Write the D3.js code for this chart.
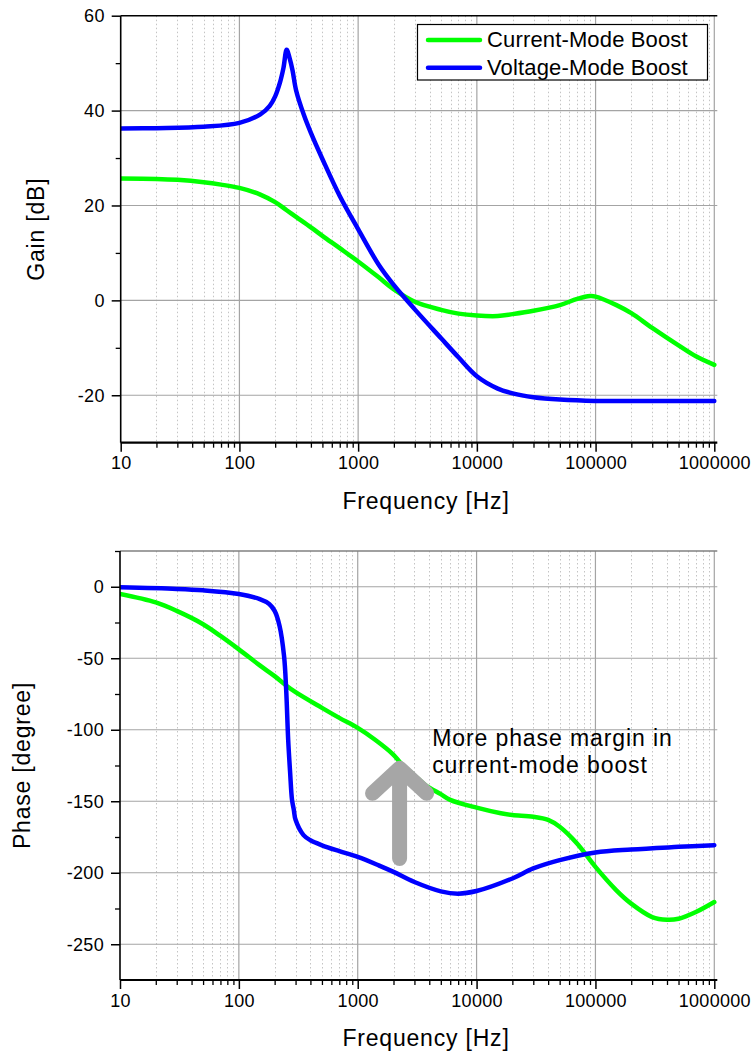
<!DOCTYPE html>
<html><head><meta charset="utf-8">
<script src="https://cdn.jsdelivr.net/npm/d3@7"></script>
<style>
body{margin:0;background:#fff}
svg{display:block}
text{font-family:"Liberation Sans",Arial,sans-serif;fill:#000}
</style>
</head><body>
<svg id="chart" width="753" height="1051"></svg>
<script>
// ---------- data ----------
const seriesNames = ["Current-Mode Boost", "Voltage-Mode Boost"];
const seriesColors = ["#00ff00", "#0000ff"];
const freqTicks = [10, 100, 1000, 10000, 100000, 1000000];
const freqTickLabels = ["10", "100", "1000", "10000", "100000", "1000000"];
const gainTicks = [-20, 0, 20, 40, 60];
const gainTickLabels = ["-20", "0", "20", "40", "60"];
const phaseTicks = [-250, -200, -150, -100, -50, 0];
const phaseTickLabels = ["-250", "-200", "-150", "-100", "-50", "0"];

// Gain, current-mode
const gainCMFreq = [10, 20, 30, 50, 70, 100, 150, 200, 250, 300, 400, 500, 700, 1000, 1500, 2000, 3000, 5000, 7000, 10000, 15000, 20000, 30000, 50000, 70000, 90000, 100000, 150000, 200000, 300000, 500000, 700000, 1000000];
const gainCM = [25.7, 25.6, 25.4, 24.9, 24.4, 23.7, 22.3, 20.7, 19.0, 17.6, 15.4, 13.6, 11.0, 8.2, 4.8, 2.3, -0.3, -2.0, -2.8, -3.2, -3.3, -2.9, -2.2, -1.0, 0.3, 0.9, 0.8, -1.0, -2.7, -5.8, -9.5, -11.8, -13.6];

// Gain, voltage-mode
const gainVMFreq = [10, 20, 50, 100, 150, 180, 200, 220, 235, 250, 265, 280, 300, 350, 400, 500, 700, 1000, 1500, 2000, 3000, 5000, 7000, 10000, 15000, 20000, 30000, 50000, 100000, 300000, 1000000];
const gainVM = [36.2, 36.3, 36.6, 37.4, 39.2, 41.0, 43.0, 46.0, 49.0, 52.8, 51.0, 48.5, 44.3, 39.0, 35.3, 29.8, 22.0, 15.0, 7.4, 3.2, -1.9, -8.0, -12.0, -16.0, -18.6, -19.6, -20.4, -20.9, -21.2, -21.2, -21.2];

// Phase, current-mode
const phaseCMFreq = [10, 20, 30, 50, 70, 100, 150, 200, 250, 300, 500, 700, 1000, 1400, 2000, 2300, 3000, 3700, 5000, 6000, 10000, 16000, 20000, 30000, 40000, 50000, 70000, 100000, 150000, 200000, 300000, 400000, 500000, 700000, 1000000];
const phaseCM = [-5.1, -11, -16.9, -26.2, -34.4, -43.8, -55, -62.5, -69, -73.7, -84.7, -91.7, -98.7, -107, -117.5, -123.3, -131.9, -138.6, -145, -149, -154.5, -158.4, -159.6, -160.8, -163, -167.8, -179.5, -195.9, -212.3, -221.6, -231, -232.9, -232.2, -227.5, -220.5];

// Phase, voltage-mode
const phaseVMFreq = [10, 30, 50, 100, 150, 180, 200, 220, 240, 250, 260, 270, 280, 290, 300, 350, 400, 500, 700, 1000, 1500, 2000, 3000, 5000, 7000, 10000, 20000, 30000, 50000, 100000, 200000, 500000, 1000000];
const phaseVM = [-0.4, -1.5, -2.5, -5.1, -8.6, -12, -16.9, -27.4, -48.5, -71.8, -107, -130, -149, -156, -163, -173.7, -177.3, -180.8, -184.9, -188.9, -194.8, -199.4, -206.5, -213, -214.6, -212.8, -204, -197, -191.2, -185.8, -183.7, -181.9, -180.7];

const annotationLines = ["More phase margin in", "current-mode boost"];

// ---------- drawing ----------
const svg = d3.select("#chart");
const zip = (xs, ys) => xs.map((x, i) => [x, ys[i]]);

function panel(opt) {
  const x = d3.scaleLog().domain([10, 1e6]).range([opt.x0, opt.x1]);
  const y = d3.scaleLinear().domain(opt.yDomain).range([opt.yBottom, opt.yTop]);
  const g = svg.append("g");
  const id = "clip" + opt.name;
  svg.append("clipPath").attr("id", id).append("rect")
    .attr("x", opt.x0).attr("y", opt.yTop).attr("width", opt.x1 - opt.x0 + 3).attr("height", opt.yBottom - opt.yTop);

  // minor vertical grid
  const minor = [];
  for (let d = 10; d < 1e6; d *= 10) for (let k = 2; k <= 9; k++) minor.push(d * k);
  g.append("g").selectAll("line").data(minor).join("line")
    .attr("x1", d => Math.round(x(d)) + 0.5).attr("x2", d => Math.round(x(d)) + 0.5)
    .attr("y1", opt.yTop).attr("y2", opt.yBottom)
    .attr("stroke", "#c4c4c4").attr("stroke-width", 1).attr("stroke-dasharray", "1.5,2.5");
  // major vertical grid
  g.append("g").selectAll("line").data(freqTicks.slice(1)).join("line")
    .attr("x1", d => x(d)).attr("x2", d => x(d))
    .attr("y1", opt.yTop).attr("y2", opt.yBottom)
    .attr("stroke", "#a4a4a4").attr("stroke-width", 1.2);
  // major horizontal grid
  g.append("g").selectAll("line").data(opt.yTicks.filter(v => v < opt.yDomain[1])).join("line")
    .attr("x1", opt.x0).attr("x2", opt.x1 + 3)
    .attr("y1", d => y(d)).attr("y2", d => y(d))
    .attr("stroke", "#a4a4a4").attr("stroke-width", 1.2);

  // top frame
  g.append("line").attr("x1", opt.x0).attr("x2", opt.x1 + 3)
    .attr("y1", opt.yTop).attr("y2", opt.yTop)
    .attr("stroke", opt.topColor).attr("stroke-width", 1.5);

  // curves
  const line = d3.line().x(d => x(d[0])).y(d => y(d[1])).curve(d3.curveCatmullRom.alpha(0.5));
  const cg = g.append("g").attr("clip-path", `url(#${id})`);
  opt.series.forEach((s, i) => {
    cg.append("path").datum(s).attr("d", line)
      .attr("fill", "none").attr("stroke", seriesColors[i])
      .attr("stroke-width", 4.5).attr("stroke-linejoin", "round").attr("stroke-linecap", "round");
  });

  // x axis
  const xAxis = d3.axisBottom(x).tickValues(freqTicks).tickSize(9)
    .tickFormat((d, i) => freqTickLabels[i]);
  const xa = g.append("g").attr("transform", `translate(0,${opt.yBottom})`).call(xAxis);
  xa.select(".domain").attr("d", `M${opt.x0},0H${opt.x1 + 3}`).attr("stroke", "#000").attr("stroke-width", 2.2);
  xa.selectAll(".tick line").attr("stroke", "#000").attr("stroke-width", 1.5);
  xa.selectAll(".tick text").attr("y", 14).attr("font-size", 18).attr("letter-spacing", 0.3)
    .attr("font-family", '"Liberation Sans",Arial,sans-serif').attr("fill", "#000");
  const xm = d3.axisBottom(x).tickValues(minor).tickSize(5).tickFormat("");
  const xma = g.append("g").attr("transform", `translate(0,${opt.yBottom})`).call(xm);
  xma.select(".domain").remove();
  xma.selectAll(".tick line").attr("stroke", "#000").attr("stroke-width", 1.3);

  // y axis
  const yAxis = d3.axisLeft(y).tickValues(opt.yTicks).tickSize(9)
    .tickFormat((d, i) => opt.yTickLabels[i]);
  const ya = g.append("g").attr("transform", `translate(${opt.x0},0)`).call(yAxis);
  ya.select(".domain").attr("d", `M0,${opt.yTop}V${opt.yBottom}`).attr("stroke", "#000").attr("stroke-width", 1.6);
  ya.selectAll(".tick line").attr("stroke", "#000").attr("stroke-width", 1.5);
  ya.selectAll(".tick text").attr("x", -16).attr("font-size", 18).attr("letter-spacing", 0.3)
    .attr("font-family", '"Liberation Sans",Arial,sans-serif').attr("fill", "#000");
  const ym = d3.axisLeft(y).tickValues(opt.yMinor).tickSize(5).tickFormat("");
  const yma = g.append("g").attr("transform", `translate(${opt.x0},0)`).call(ym);
  yma.select(".domain").remove();
  yma.selectAll(".tick line").attr("stroke", "#000").attr("stroke-width", 1.3);

  // titles
  g.append("text").attr("x", opt.xTitleX).attr("y", opt.yBottom + 66)
    .attr("text-anchor", "middle").attr("font-size", 23).attr("letter-spacing", 0.8)
    .text("Frequency [Hz]");
  g.append("text")
    .attr("transform", `translate(${opt.yTitleX},${(opt.yTop + opt.yBottom) / 2}) rotate(-90)`)
    .attr("text-anchor", "middle").attr("font-size", 23).attr("letter-spacing", 0.8)
    .text(opt.yTitle);
  return { x, y, g };
}

// top: gain
const gainPanel = panel({
  name: "gain", x0: 120.7, x1: 714.3, yTop: 15.7, yBottom: 442.7,
  yDomain: [-30, 60], yTicks: gainTicks, yTickLabels: gainTickLabels,
  yMinor: [-10, 10, 30, 50], topColor: "#000",
  xTitleX: 426, yTitleX: 44, yTitle: "Gain [dB]",
  series: [zip(gainCMFreq, gainCM), zip(gainVMFreq, gainVM)]
});

// legend
const lg = svg.append("g");
lg.append("rect").attr("x", 417.5).attr("y", 24.5).attr("width", 290).attr("height", 55.5)
  .attr("fill", "#fff").attr("stroke", "#000").attr("stroke-width", 1.2);
seriesNames.forEach((n, i) => {
  const yy = 40 + i * 27.7;
  lg.append("line").attr("x1", 428).attr("x2", 480).attr("y1", yy).attr("y2", yy)
    .attr("stroke", seriesColors[i]).attr("stroke-width", 4.5).attr("stroke-linecap", "round");
  lg.append("text").attr("x", 487).attr("y", yy + 7).attr("font-size", 22).attr("letter-spacing", 0.15).text(n);
});

// bottom: phase
const phasePanel = panel({
  name: "phase", x0: 120, x1: 714.3, yTop: 551, yBottom: 980,
  yDomain: [-275, 25], yTicks: phaseTicks, yTickLabels: phaseTickLabels,
  yMinor: [-225, -175, -125, -75, -25, 25], topColor: "#808080",
  xTitleX: 426, yTitleX: 30, yTitle: "Phase [degree]",
  series: [zip(phaseCMFreq, phaseCM), zip(phaseVMFreq, phaseVM)]
});

// arrow annotation
const ax = phasePanel.x(2250), ay0 = phasePanel.y(-190), ay1 = phasePanel.y(-127);
svg.append("path")
  .attr("d", `M${ax},${ay0}L${ax},${ay1}M${ax - 27},${ay1 + 25}L${ax},${ay1}L${ax + 27},${ay1 + 25}`)
  .attr("fill", "none").attr("stroke", "#a6a6a6").attr("stroke-width", 15)
  .attr("stroke-linecap", "round").attr("stroke-linejoin", "round");

annotationLines.forEach((t, i) => {
  svg.append("text").attr("x", phasePanel.x(4230)).attr("y", phasePanel.y(-111.7) + i * 26.7)
    .attr("font-size", 23).attr("letter-spacing", 0.9).text(t);
});
</script>
</body></html>
